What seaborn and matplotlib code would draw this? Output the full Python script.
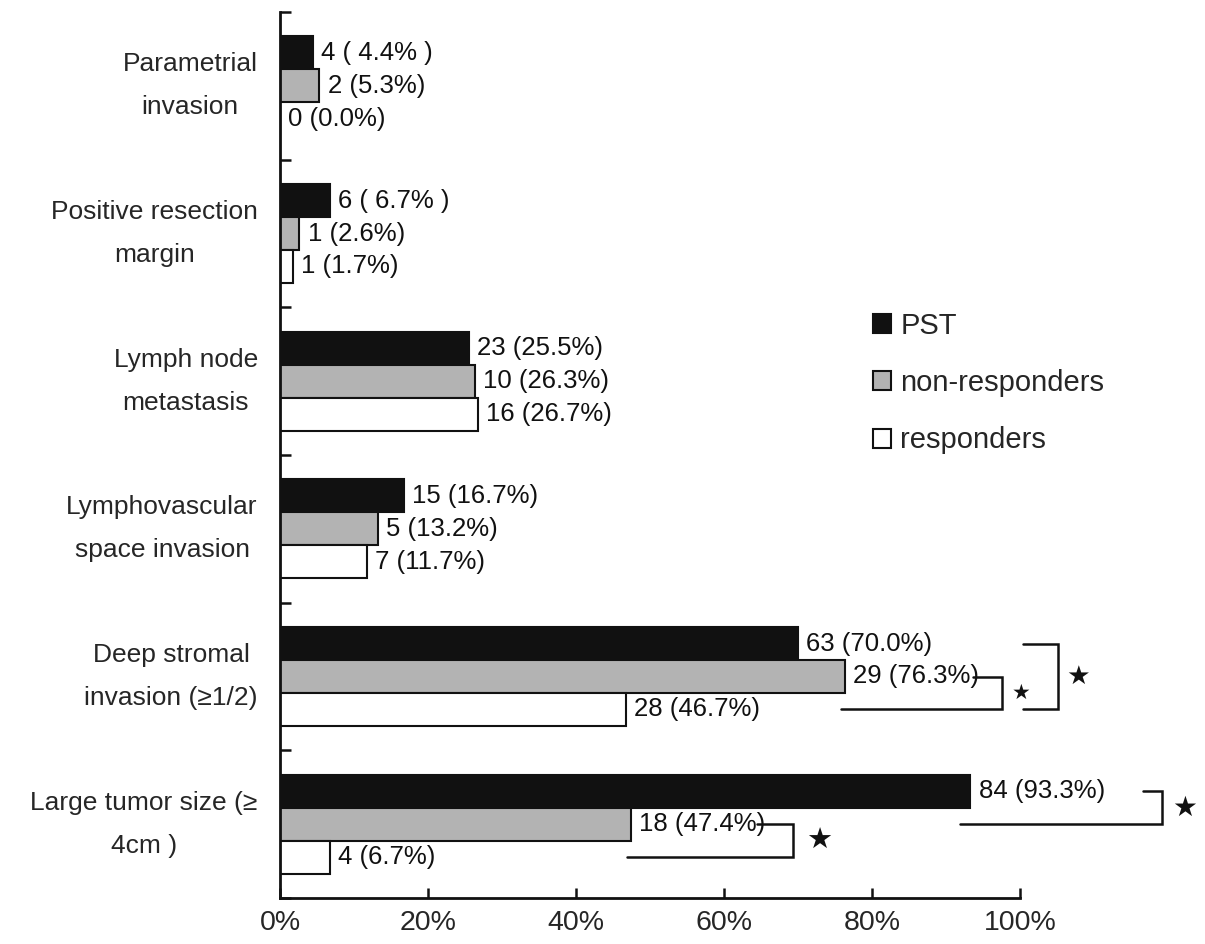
import matplotlib
matplotlib.use("Agg")
import matplotlib.pyplot as plt
import seaborn as sns
import pandas as pd
from matplotlib.ticker import FixedLocator, PercentFormatter

# ---------------- data ----------------
categories = [
    "Parametrial\ninvasion",
    "Positive resection\nmargin",
    "Lymph node\nmetastasis",
    "Lymphovascular\nspace invasion",
    "Deep stromal\ninvasion (\u22651/2)",
    "Large tumor size (\u2265\n4cm )",
]
groups = ["PST", "non-responders", "responders"]

pst_pct = [4.4, 6.7, 25.5, 16.7, 70.0, 93.3]
nonresp_pct = [5.3, 2.6, 26.3, 13.2, 76.3, 47.4]
resp_pct = [0.0, 1.7, 26.7, 11.7, 46.7, 6.7]

pst_labels = ["4 ( 4.4% )", "6 ( 6.7% )", "23 (25.5%)", "15 (16.7%)", "63 (70.0%)", "84 (93.3%)"]
nonresp_labels = ["2 (5.3%)", "1 (2.6%)", "10 (26.3%)", "5 (13.2%)", "29 (76.3%)", "18 (47.4%)"]
resp_labels = ["0 (0.0%)", "1 (1.7%)", "16 (26.7%)", "7 (11.7%)", "28 (46.7%)", "4 (6.7%)"]

x_ticks = [0, 20, 40, 60, 80, 100]

# significance brackets: (category index, upper group, lower group,
#  x start of upper arm, x start of lower arm, x of vertical, star x, star size)
brackets = [
    (4, 1, 2, 93.6, 75.8, 97.6, 100.1, 15),
    (4, 0, 2, 100.4, 100.4, 105.1, 107.8, 19),
    (5, 0, 1, 116.6, 91.9, 119.2, 122.3, 20),
    (5, 1, 2, 64.5, 46.9, 69.3, 72.8, 21),
]

# ---------------- plotting ----------------
df = pd.DataFrame({
    "category": categories * 3,
    "group": [g for g in groups for _ in categories],
    "pct": pst_pct + nonresp_pct + resp_pct,
})

sns.set_theme(style="white")
plt.rcParams["font.family"] = ["Liberation Sans", "DejaVu Sans"]

fig = plt.figure(figsize=(12.05, 9.44), dpi=100)
ax = fig.add_axes([280 / 1205, 46 / 944, 740 / 1205, 886 / 944])

palette = {"PST": "#111111", "non-responders": "#b3b3b3", "responders": "#ffffff"}
sns.barplot(data=df, y="category", x="pct", hue="group", order=categories,
            hue_order=groups, palette=palette, orient="h", width=0.67,
            edgecolor="#111111", linewidth=1.5, saturation=1, errorbar=None, ax=ax)

ax.set_xlim(0, 100)
ax.set_ylim(len(categories) - 0.5, -0.5)
ax.set_xlabel("")
ax.set_ylabel("")

for s in ["top", "right"]:
    ax.spines[s].set_visible(False)
for s in ["left", "bottom"]:
    ax.spines[s].set_linewidth(2)
    ax.spines[s].set_color("#111111")

ax.xaxis.set_major_locator(FixedLocator(x_ticks))
ax.xaxis.set_major_formatter(PercentFormatter(decimals=0))
ax.tick_params(axis="x", direction="in", length=7, width=1.8, color="#111111",
               labelsize=20.5, pad=9, bottom=True)
ax.tick_params(axis="y", which="major", length=0, labelsize=19, pad=16)
ax.yaxis.set_minor_locator(FixedLocator([i - 0.5 for i in range(len(categories) + 1)]))
ax.tick_params(axis="y", which="minor", direction="in", length=8, width=1.8,
               color="#111111", left=True)
for lab in ax.get_yticklabels():
    lab.set_multialignment("center")
    lab.set_verticalalignment("center")
    lab.set_linespacing(2.0)

# bar value labels
all_labels = [pst_labels, nonresp_labels, resp_labels]
for cont, labs in zip(ax.containers, all_labels):
    ax.bar_label(cont, labels=labs, padding=6, fontsize=18.5, color="#111111")

# brackets
def bar_center(cat, grp):
    p = ax.containers[grp].patches[cat]
    return p.get_y() + p.get_height() / 2

for cat, g1, g2, xa, xb, xv, sx, ss in brackets:
    y1 = bar_center(cat, g1)
    y2 = bar_center(cat, g2)
    ax.plot([xa, xv, xv, xb], [y1, y1, y2, y2], color="#111111", lw=1.8,
            clip_on=False, solid_joinstyle="miter")
    ax.text(sx, (y1 + y2) / 2, "\u2605", fontsize=ss, ha="center", va="center",
            family=["DejaVu Sans"], color="#111111", clip_on=False)

# legend
sns.move_legend(ax, loc="upper left", bbox_to_anchor=(873 / 1205, 1 - 312 / 944),
                bbox_transform=fig.transFigure, title=None, frameon=False,
                fontsize=21, handlelength=0.62, handleheight=0.62,
                handletextpad=0.32, labelspacing=1.0, borderpad=0, borderaxespad=0)
for h in ax.get_legend().legend_handles:
    h.set_edgecolor("#111111")
    h.set_linewidth(1.5)

fig.savefig("out.png", dpi=100)
